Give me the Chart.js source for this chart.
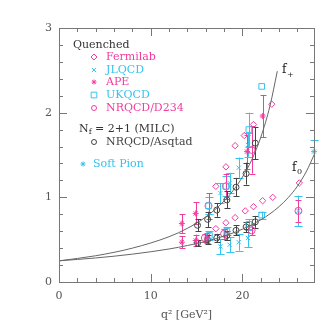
<!DOCTYPE html>
<html>
<head>
<meta charset="utf-8">
<script src="https://cdn.jsdelivr.net/npm/chart.js@4.4.0/dist/chart.umd.min.js"></script>
<style>
html, body { margin: 0; padding: 0; background: #fff; }
</style>
</head>
<body>
<canvas id="formFactorChart" width="322" height="322"></canvas>
<script>
/* B -> pi form factors f+ and f0 vs q^2 */

// fit curves
const fitQ2Plus = [0, 4, 8, 12, 14, 16, 18, 19, 20, 21, 22, 23, 23.8];
const fitFPlus = [0.25, 0.31, 0.40, 0.535, 0.634, 0.768, 0.956, 1.082, 1.24, 1.44, 1.71, 2.08, 2.49];
const fitQ2Zero = [0, 4, 8, 12, 14, 16, 18, 20, 22, 23, 24, 25, 26, 27, 27.8];
const fitFZero = [0.25, 0.284, 0.329, 0.39, 0.431, 0.48, 0.543, 0.624, 0.734, 0.805, 0.891, 0.998, 1.133, 1.312, 1.50];

// Fermilab (no error bars drawn)
const fermilabQ2Plus = [17.1, 18.2, 19.2, 20.2, 21.2, 23.2];
const fermilabFPlus = [1.13, 1.36, 1.61, 1.73, 1.86, 2.10];
const fermilabQ2Zero = [17.1, 18.2, 19.2, 20.3, 21.2, 22.2, 23.3, 26.2];
const fermilabFZero = [0.63, 0.70, 0.76, 0.84, 0.89, 0.96, 1.00, 1.17];

// JLQCD
const jlqcdQ2Plus = [17.6, 18.6, 19.6, 20.6];
const jlqcdFPlus = [1.05, 1.17, 1.35, 1.62];
const jlqcdFPlusErr = [0.12, 0.12, 0.12, 0.14];
const jlqcdQ2Zero = [17.6, 18.6, 19.6, 20.6, 26.1];
const jlqcdFZero = [0.42, 0.44, 0.47, 0.52, 0.84];
const jlqcdFZeroErr = [0.09, 0.09, 0.10, 0.11, 0.18];

// APE
const apeQ2Plus = [13.4, 14.9, 20.5, 22.2];
const apeFPlus = [0.69, 0.81, 1.54, 1.96];
const apeFPlusErr = [0.11, 0.13, 0.20, 0.25];
const apeQ2Zero = [13.4, 14.9, 16.1];
const apeFZero = [0.47, 0.49, 0.52];
const apeFZeroErr = [0.07, 0.07, 0.06];

// UKQCD
const ukqcdQ2Plus = [16.3, 18.2, 20.7, 22.1];
const ukqcdFPlus = [0.90, 1.13, 1.80, 2.31];
const ukqcdFPlusErr = [0.10, 0.12, 0.20, 0];
const ukqcdQ2Zero = [16.4, 18.3, 20.7, 22.1];
const ukqcdFZero = [0.55, 0.60, 0.68, 0.79];
const ukqcdFZeroErr = [0.05, 0.05, 0.06, 0.04];

// NRQCD/D234
const d234Q2Plus = [16.3, 18.2, 21.0];
const d234FPlus = [0.90, 1.13, 1.56];
const d234FPlusErr = [0.15, 0.15, 0.28];
const d234Q2Zero = [15.9, 18.0, 21.0, 26.1];
const d234FZero = [0.52, 0.57, 0.61, 0.84];
const d234FZeroErr = [0.05, 0.06, 0.06, 0.13];

// Nf = 2+1 MILC, NRQCD/Asqtad
const milcQ2 = [15.1, 16.2, 17.2, 18.3, 19.3, 20.4, 21.4];
const milcFPlus = [0.67, 0.74, 0.85, 0.97, 1.12, 1.28, 1.64];
const milcFPlusErr = [0.07, 0.09, 0.08, 0.10, 0.11, 0.13, 0.19];
const milcFZero = [0.46, 0.50, 0.52, 0.55, 0.61, 0.65, 0.71];
const milcFZeroErr = [0.04, 0.05, 0.05, 0.05, 0.06, 0.06, 0.07];

// soft pion point
const softPionQ2 = [27.8];
const softPionF0 = [1.54];
const softPionErr = [0.14];

// axis ticks
const xTickValues = [0, 2, 4, 6, 8, 10, 12, 14, 16, 18, 20, 22, 24, 26];
const xTickLabels = [0, 10, 20];
const yTickValues = [0, 0.2, 0.4, 0.6, 0.8, 1, 1.2, 1.4, 1.6, 1.8, 2, 2.2, 2.4, 2.6, 2.8, 3];
const yTickLabels = [0, 1, 2, 3];

const MAGENTA = '#f23c9e';
const CYAN = '#35c3ef';
const DARK = '#444';
const FONT = '"DejaVu Serif", serif';

function pts(q2, f, err) {
    return q2.map((x, i) => ({ x: x, y: f[i], e: err ? err[i] : 0 }));
}

function curve(q2, f) {
    return q2.map((x, i) => ({ x: x, y: f[i] }));
}

const legendItems = [
    { text: 'Quenched', color: '#333', x: 73, y: 45 },
    { text: 'Fermilab', color: MAGENTA, style: 'rectRot', r: 3, x: 94, y: 57 },
    { text: 'JLQCD', color: CYAN, style: 'crossRot', r: 3, x: 94, y: 70 },
    { text: 'APE', color: MAGENTA, style: 'star', r: 2.5, x: 94, y: 82 },
    { text: 'UKQCD', color: CYAN, style: 'rect', r: 4, x: 94, y: 95 },
    { text: 'NRQCD/D234', color: MAGENTA, style: 'circle', r: 2.5, x: 94, y: 108 },
    { text: 'N', sub: 'f', rest: ' = 2+1 (MILC)', color: '#333', x: 79, y: 129 },
    { text: 'NRQCD/Asqtad', color: DARK, style: 'circle', r: 2.5, x: 94, y: 142 },
    { text: 'Soft Pion', color: CYAN, style: 'star', r: 2.5, x: 83, y: 164, textX: 93 }
];

// error bars with caps, behind the markers
const errorBars = {
    id: 'errorBars',
    beforeDatasetsDraw(chart) {
        const { ctx, scales: { x, y } } = chart;
        ctx.save();
        ctx.lineWidth = 1;
        chart.data.datasets.forEach(ds => {
            if (!ds.errColor) return;
            ctx.strokeStyle = ds.errColor;
            ds.data.forEach(p => {
                if (!p.e) return;
                const px = Math.round(x.getPixelForValue(p.x)) + 0.5;
                const top = y.getPixelForValue(p.y + p.e);
                const bot = y.getPixelForValue(p.y - p.e);
                const w = ds.capWidth || 3;
                ctx.beginPath();
                ctx.moveTo(px, top); ctx.lineTo(px, bot);
                ctx.moveTo(px - w, Math.round(top) + 0.5); ctx.lineTo(px + w, Math.round(top) + 0.5);
                ctx.moveTo(px - w, Math.round(bot) + 0.5); ctx.lineTo(px + w, Math.round(bot) + 0.5);
                ctx.stroke();
            });
        });
        ctx.restore();
    }
};

// frame with inward ticks, legend text, curve labels
const frameAndText = {
    id: 'frameAndText',
    afterDraw(chart) {
        const { ctx, chartArea: a, scales: { x, y } } = chart;
        ctx.save();
        ctx.strokeStyle = '#777';
        ctx.lineWidth = 1;
        ctx.strokeRect(Math.round(a.left) + 0.5, Math.round(a.top) + 0.5,
            Math.round(a.right - a.left), Math.round(a.bottom - a.top));
        ctx.beginPath();
        xTickValues.forEach(v => {
            const len = xTickLabels.includes(v) ? 8 : 4;
            const px = Math.round(x.getPixelForValue(v)) + 0.5;
            ctx.moveTo(px, a.bottom); ctx.lineTo(px, a.bottom - len);
            ctx.moveTo(px, a.top); ctx.lineTo(px, a.top + len);
        });
        yTickValues.forEach(v => {
            const len = yTickLabels.includes(v) ? 8 : 4;
            const py = Math.round(y.getPixelForValue(v)) + 0.5;
            ctx.moveTo(a.left, py); ctx.lineTo(a.left + len, py);
            ctx.moveTo(a.right, py); ctx.lineTo(a.right - len, py);
        });
        ctx.stroke();

        // legend
        ctx.textBaseline = 'middle';
        legendItems.forEach(item => {
            let tx = item.textX || item.x;
            if (item.style) {
                ctx.strokeStyle = item.color;
                ctx.fillStyle = 'rgba(0,0,0,0)';
                ctx.lineWidth = 1;
                Chart.helpers.drawPoint(ctx, { pointStyle: item.style, radius: item.r, borderWidth: 1 }, item.x, item.y);
                tx = item.textX || item.x + 12;
            }
            ctx.fillStyle = item.color;
            ctx.font = '11px ' + FONT;
            ctx.fillText(item.text, tx, item.y);
            if (item.sub) {
                const w = ctx.measureText(item.text).width;
                ctx.font = '8px ' + FONT;
                ctx.fillText(item.sub, tx + w, item.y + 3);
                const w2 = ctx.measureText(item.sub).width;
                ctx.font = '11px ' + FONT;
                ctx.fillText(item.rest, tx + w + w2, item.y);
            }
        });

        // curve labels
        ctx.fillStyle = '#222';
        ctx.font = '12px ' + FONT;
        ctx.fillText('f', 282, 70);
        ctx.fillText('f', 292, 168);
        ctx.font = '8px ' + FONT;
        ctx.fillText('+', 287, 75);
        ctx.fillText('0', 297, 172);
        ctx.restore();
    }
};

function errDataset(label, data, color, style, radius, cap) {
    return {
        label: label,
        data: data,
        showLine: false,
        pointStyle: style,
        pointRadius: radius,
        pointBorderWidth: 1,
        borderColor: color,
        backgroundColor: 'rgba(0,0,0,0)',
        errColor: color,
        capWidth: cap
    };
}

new Chart(document.getElementById('formFactorChart'), {
    type: 'scatter',
    data: {
        datasets: [
            {
                label: 'f+ fit', data: curve(fitQ2Plus, fitFPlus), showLine: true,
                borderColor: '#666', borderWidth: 1, pointRadius: 0,
                cubicInterpolationMode: 'monotone'
            },
            {
                label: 'f0 fit', data: curve(fitQ2Zero, fitFZero), showLine: true,
                borderColor: '#666', borderWidth: 1, pointRadius: 0,
                cubicInterpolationMode: 'monotone'
            },
            errDataset('APE', pts(apeQ2Plus, apeFPlus, apeFPlusErr).concat(pts(apeQ2Zero, apeFZero, apeFZeroErr)), MAGENTA, 'star', 3, 3),
            errDataset('JLQCD', pts(jlqcdQ2Plus, jlqcdFPlus, jlqcdFPlusErr).concat(pts(jlqcdQ2Zero, jlqcdFZero, jlqcdFZeroErr)), CYAN, 'crossRot', 3, 4),
            errDataset('UKQCD', pts(ukqcdQ2Plus, ukqcdFPlus, ukqcdFPlusErr).concat(pts(ukqcdQ2Zero, ukqcdFZero, ukqcdFZeroErr)), CYAN, 'rect', 4, 4),
            errDataset('NRQCD/D234', pts(d234Q2Plus, d234FPlus, d234FPlusErr).concat(pts(d234Q2Zero, d234FZero, d234FZeroErr)), MAGENTA, 'circle', 3.5, 3),
            errDataset('Fermilab', pts(fermilabQ2Plus, fermilabFPlus).concat(pts(fermilabQ2Zero, fermilabFZero)), MAGENTA, 'rectRot', 3.2, 3),
            errDataset('NRQCD/Asqtad', pts(milcQ2, milcFPlus, milcFPlusErr).concat(pts(milcQ2, milcFZero, milcFZeroErr)), DARK, 'circle', 3, 3),
            errDataset('Soft Pion', pts(softPionQ2, softPionF0, softPionErr), CYAN, 'star', 3, 4)
        ]
    },
    options: {
        responsive: false,
        animation: false,
        clip: false,
        layout: { padding: { top: 28, right: 8, left: 0, bottom: 0 } },
        plugins: { legend: { display: false }, tooltip: { enabled: false } },
        scales: {
            x: {
                type: 'linear', min: 0, max: 27.8,
                grid: { display: false, drawTicks: false },
                border: { display: false },
                afterBuildTicks: scale => { scale.ticks = xTickLabels.map(v => ({ value: v })); },
                afterFit: scale => { scale.height = 40; },
                ticks: { padding: 8, color: '#555', font: { family: FONT, size: 11 }, maxRotation: 0 },
                title: { display: true, text: 'q² [GeV²]', color: '#555', font: { family: FONT, size: 11 }, padding: { top: 0, bottom: 0 } }
            },
            y: {
                type: 'linear', min: 0, max: 3,
                grid: { display: false, drawTicks: false },
                border: { display: false },
                afterBuildTicks: scale => { scale.ticks = yTickLabels.map(v => ({ value: v })); },
                afterFit: scale => { scale.width = 59; },
                ticks: { padding: 7, color: '#555', font: { family: FONT, size: 11 } }
            }
        }
    },
    plugins: [errorBars, frameAndText]
});
</script>
</body>
</html>
